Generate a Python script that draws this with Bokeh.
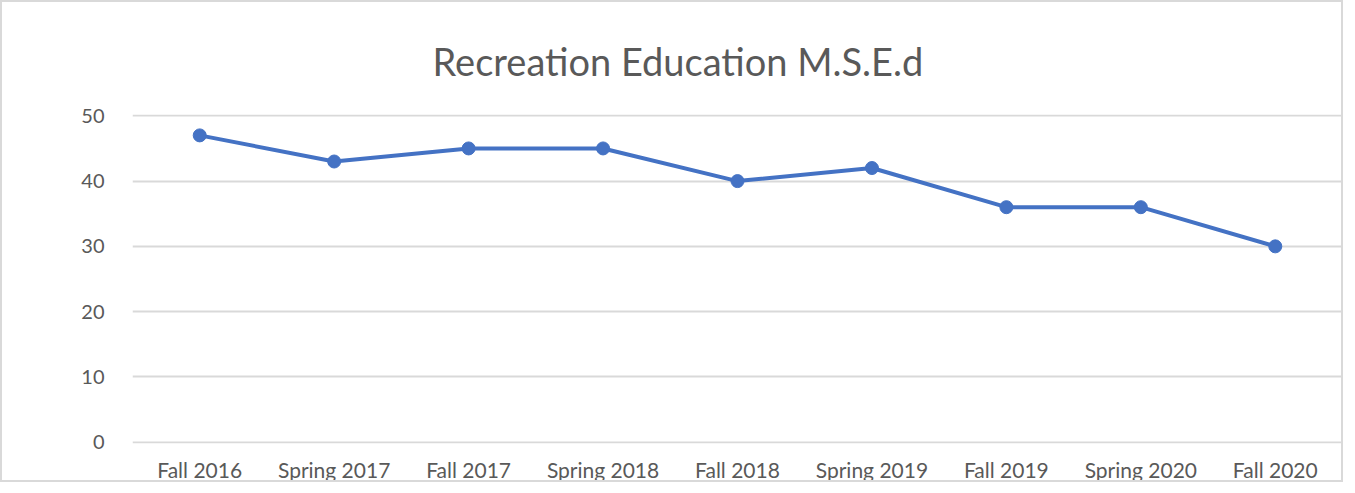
from bokeh.plotting import figure
from bokeh.models import Range1d, FactorRange, FixedTicker
from bokeh.embed import file_html
from bokeh.resources import INLINE

terms = ["Fall 2016", "Spring 2017", "Fall 2017", "Spring 2018", "Fall 2018",
         "Spring 2019", "Fall 2019", "Spring 2020", "Fall 2020"]
values = [47, 43, 45, 45, 40, 42, 36, 36, 30]
y_ticks = [0, 10, 20, 30, 40, 50]
chart_title = "Recreation Education M.S.E.d"

FONT = "Lato"
GREY = "#595959"
BLUE = "#4472C4"

p = figure(width=1343, height=482, x_range=FactorRange(*terms, range_padding=0),
           y_range=Range1d(-0.2, 50.2), output_backend="svg", toolbar_location=None,
           min_border_left=130, min_border_right=3, min_border_top=112,
           min_border_bottom=22, title=chart_title)

p.styles = {"border": "2px solid #d9d9d9"}

p.title.align = "left"
p.title.offset = 300
p.title.text_font = FONT
p.title.text_font_size = "38px"
p.title.text_font_style = "normal"
p.title.text_color = GREY
p.title.standoff = 62

p.outline_line_color = None
p.xgrid.grid_line_color = None
p.ygrid.grid_line_color = "#d9d9d9"
p.ygrid.grid_line_width = 2
p.yaxis.ticker = FixedTicker(ticks=y_ticks)

for ax in (p.xaxis, p.yaxis):
    ax.axis_line_color = None
    ax.major_tick_line_color = None
    ax.minor_tick_line_color = None
    ax.major_label_text_font = FONT
    ax.major_label_text_color = GREY
p.yaxis.major_label_text_font_size = "20px"
p.xaxis.major_label_text_font_size = "21px"
p.yaxis.major_label_standoff = 22
p.xaxis.major_label_standoff = 7

p.line(terms, values, line_color=BLUE, line_width=4)
p.scatter(terms, values, size=13, fill_color=BLUE, line_color=BLUE)

open("out.html", "w").write(file_html(p, INLINE))
